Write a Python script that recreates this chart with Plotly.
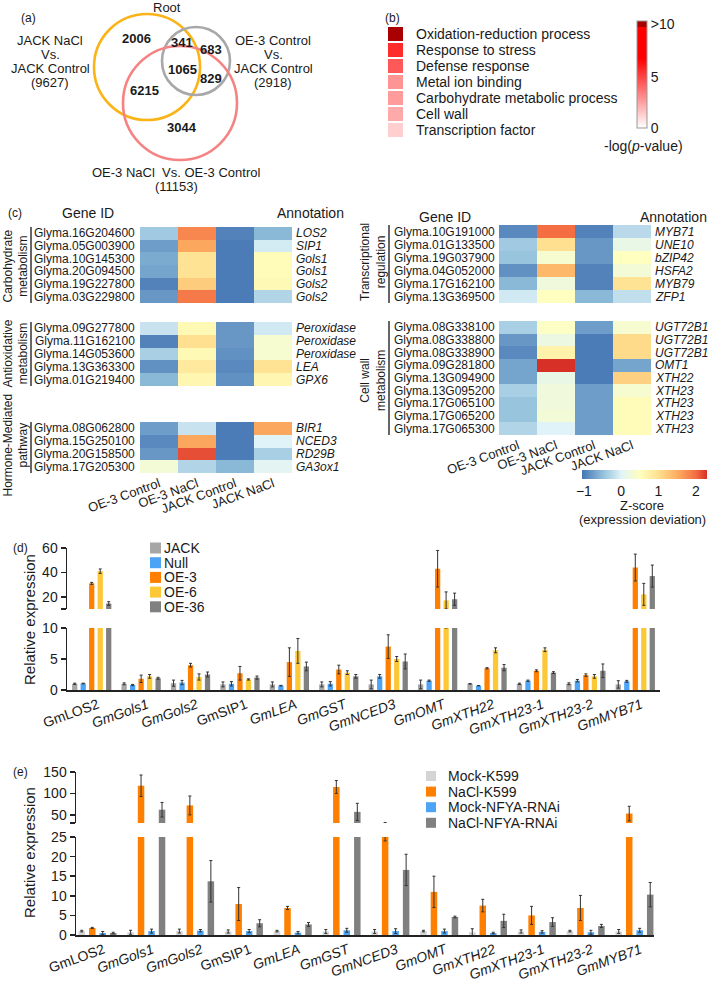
import plotly.graph_objects as go

W, H = 709, 990
FONT = "Arial, 'Liberation Sans', sans-serif"
TXT = "#1a1a1a"


def px(x):
    return x / W


def py(y):
    return 1 - y / H

# ------------------------------------------------------------------ data
# (a) Venn
venn_root = "Root"
venn_left_label = ["JACK NaCl", "Vs.", "JACK Control", "(9627)"]
venn_right_label = ["OE-3 Control", "Vs.", "JACK Control", "(2918)"]
venn_bottom_label = ["OE-3 NaCl  Vs. OE-3 Control", "(11153)"]
venn_counts = [2006, 341, 683, 1065, 829, 6215, 3044]

# (b) GO terms
go_terms = ["Oxidation-reduction process", "Response to stress", "Defense response",
            "Metal ion binding", "Carbohydrate metabolic process", "Cell wall",
            "Transcription factor"]
go_logp = [10.5, 5.7, 4.5, 2.9, 2.7, 2.3, 1.3]

# (c) heatmaps
hm_conditions = ["OE-3 Control", "OE-3 NaCl", "JACK Control", "JACK NaCl"]

carb_ids = ["Glyma.16G204600", "Glyma.05G003900", "Glyma.10G145300",
            "Glyma.20G094500", "Glyma.19G227800", "Glyma.03G229800"]
carb_annot = ["LOS2", "SIP1", "Gols1", "Gols1", "Gols2", "Gols2"]
carb_z = [[-0.40, 1.80, -0.95, -0.55],
          [-0.75, 1.55, -1.00, -0.08],
          [-0.65, 0.95, -1.00, 0.55],
          [-0.70, 0.95, -1.00, 0.55],
          [-0.95, 1.20, -1.00, 0.60],
          [-0.80, 1.90, -1.00, -0.30]]

antiox_ids = ["Glyma.09G277800", "Glyma.11G162100", "Glyma.14G053600",
              "Glyma.13G363300", "Glyma.01G219400"]
antiox_annot = ["Peroxidase", "Peroxidase", "Peroxidase", "LEA", "GPX6"]
antiox_z = [[-0.15, 0.60, -0.80, -0.10],
            [-0.95, 1.00, -0.80, 0.35],
            [-0.35, 0.60, -0.85, 0.35],
            [-0.85, 0.85, -0.90, 0.95],
            [-0.55, 0.65, -0.85, 0.65]]

hormone_ids = ["Glyma.08G062800", "Glyma.15G250100", "Glyma.20G158500",
               "Glyma.17G205300"]
hormone_annot = ["BIR1", "NCED3", "RD29B", "GA3ox1"]
hormone_z = [[-0.75, -0.15, -1.00, 1.55],
             [-0.90, 1.55, -1.00, 0.00],
             [-0.80, 2.15, -1.00, -0.35],
             [0.30, -0.30, -0.55, 0.05]]

trans_ids = ["Glyma.10G191000", "Glyma.01G133500", "Glyma.19G037900",
             "Glyma.04G052000", "Glyma.17G162100", "Glyma.13G369500"]
trans_annot = ["MYB71", "UNE10", "bZIP42", "HSFA2", "MYB79", "ZFP1"]
trans_z = [[-0.90, 2.00, -0.95, -0.25],
           [-0.40, 1.00, -0.80, 0.15],
           [-0.45, 0.35, -0.80, 0.50],
           [-0.85, 1.40, -0.95, 0.30],
           [-0.55, 0.25, -0.95, 0.95],
           [-0.10, 0.50, -0.55, -0.20]]

cell_ids = ["Glyma.08G338100", "Glyma.08G338800", "Glyma.08G338900",
            "Glyma.09G281800", "Glyma.13G094900", "Glyma.13G095200",
            "Glyma.17G065100", "Glyma.17G065200", "Glyma.17G065300"]
cell_annot = ["UGT72B1", "UGT72B1", "UGT72B1", "OMT1", "XTH22", "XTH23",
              "XTH23", "XTH23", "XTH23"]
cell_z = [[-0.35, 0.45, -0.75, 0.35],
          [-0.80, 0.20, -1.00, 1.05],
          [-0.90, 0.70, -1.00, 1.05],
          [-0.70, 2.30, -1.00, -0.70],
          [-0.70, 0.15, -1.00, 1.15],
          [-0.35, 0.25, -0.75, 0.35],
          [-0.45, 0.25, -0.75, 0.55],
          [-0.45, 0.30, -0.75, 0.55],
          [-0.30, 0.00, -0.75, 0.55]]

# (d) qRT-PCR, overexpression lines
genes = ["GmLOS2", "GmGols1", "GmGols2", "GmSIP1", "GmLEA", "GmGST", "GmNCED3",
         "GmOMT", "GmXTH22", "GmXTH23-1", "GmXTH23-2", "GmMYB71"]
gene_italic = [False, True, True, False, True, True, True, True, True, True, True, True]
d_series = ["JACK", "Null", "OE-3", "OE-6", "OE-36"]
d_jack = [1.0, 1.0, 1.1, 0.9, 0.9, 0.9, 0.9, 0.9, 1.0, 1.0, 1.0, 0.9]
d_jack_err = [0.1, 0.15, 0.5, 0.4, 0.4, 0.4, 0.7, 0.7, 0.05, 0.1, 0.15, 0.6]
d_null = [1.05, 0.8, 1.2, 1.0, 0.7, 1.0, 2.2, 1.5, 0.7, 1.5, 1.5, 1.4]
d_null_err = [0.05, 0.1, 0.35, 0.35, 0.05, 0.35, 0.3, 0.1, 0.02, 0.1, 0.2, 0.15]
d_oe3 = [31, 1.8, 4.0, 2.7, 4.5, 3.3, 7.0, 43, 3.5, 3.1, 2.4, 44]
d_oe3_err = [0.8, 0.6, 0.3, 1.1, 2.3, 0.7, 1.9, 15, 0.1, 0.15, 0.2, 11]
d_oe6 = [41, 2.2, 2.1, 1.7, 6.3, 2.8, 5.0, 17, 6.4, 6.5, 2.2, 22]
d_oe6_err = [1.8, 0.3, 0.5, 0.1, 2.0, 0.3, 0.4, 7, 0.4, 0.3, 0.3, 9]
d_oe36 = [14.5, 1.9, 2.5, 2.0, 3.8, 2.2, 4.6, 18, 3.6, 2.8, 3.1, 37]
d_oe36_err = [1.5, 0.15, 0.4, 0.25, 0.7, 0.3, 1.2, 5, 0.5, 0.15, 1.1, 9]

# (e) qRT-PCR, hairy roots
e_series = ["Mock-K599", "NaCl-K599", "Mock-NFYA-RNAi", "NaCl-NFYA-RNAi"]
e_mock_k = [1.0, 0.7, 1.0, 0.9, 1.0, 0.9, 0.9, 1.0, 0.7, 0.9, 1.0, 0.9]
e_mock_k_err = [0.2, 0.5, 0.5, 0.4, 0.2, 0.5, 0.5, 0.2, 0.9, 0.4, 0.2, 0.5]
e_nacl_k = [1.8, 118, 72, 7.9, 6.9, 115, 28, 11.0, 7.5, 5.0, 6.9, 53]
e_nacl_k_err = [0.15, 25, 22, 4.2, 0.4, 15, 4, 4.0, 1.6, 2.3, 3.2, 17]
e_mock_r = [0.5, 1.0, 1.1, 1.0, 0.6, 1.2, 1.0, 1.0, 0.5, 0.8, 0.7, 1.2]
e_mock_r_err = [0.4, 0.5, 0.3, 0.4, 0.3, 0.5, 0.6, 0.5, 0.2, 0.3, 0.5, 0.5]
e_nacl_r = [0.5, 62, 13.7, 3.0, 2.7, 57, 16.6, 4.6, 3.6, 3.3, 2.3, 10.3]
e_nacl_r_err = [0.2, 17, 5.3, 0.9, 0.5, 20, 4.0, 0.2, 1.7, 1.1, 0.4, 3.1]

# ------------------------------------------------------------------ styles
d_colors = ["#a6a6a6", "#4da3f5", "#ff8000", "#fdc835", "#808080"]
e_colors = ["#d4d4d4", "#ff8000", "#4da3f5", "#808080"]

z_min, z_max = -1.05, 2.3
z_stops = [(-1.05, "#4575b4"), (-0.5, "#91bfdb"), (0.0, "#e0f3f8"), (0.5, "#ffffbf"),
           (1.0, "#fee090"), (1.5, "#fdae61"), (2.0, "#f46d43"), (2.3, "#d73027")]
z_scale = [[(v - z_min) / (z_max - z_min), c] for v, c in z_stops]

go_max = 10.6
go_scale = [[0, "#ffffff"], [0.65, "#ff0000"], [0.94, "#ff0000"],
            [0.945, "#a80000"], [1, "#a80000"]]

fig = go.Figure()
annotations = []
shapes = []


def ann(text, x, y, size=13, xanchor="center", yanchor="middle", angle=0,
        yref="paper", color=TXT):
    annotations.append(dict(
        text=text, x=px(x), y=(py(y) if yref == "paper" else y), xref="paper", yref=yref,
        xanchor=xanchor, yanchor=yanchor, textangle=angle, showarrow=False,
        font=dict(size=size, color=color, family=FONT)))


# ------------------------------------------------------------------ (a) Venn
circles = [((94, 14, 200, 120), "#fbb418"),
           ((162, 27, 230, 95), "#a8a8a8"),
           ((123, 46, 237, 160), "#f58383")]
for (x0, y0, x1, y1), col in circles:
    shapes.append(dict(type="circle", xref="paper", yref="paper",
                       x0=px(x0), x1=px(x1), y0=py(y1), y1=py(y0),
                       line=dict(color=col, width=2.6)))
ann("(a)", 28, 18, 12)
ann(venn_root, 167, 7, 13)
for i, t in enumerate(venn_left_label):
    ann(t, 50, 40 + i * 14.3, 13)
for i, t in enumerate(venn_right_label):
    ann(t, 273, 40 + i * 14.3, 13)
for i, t in enumerate(venn_bottom_label):
    ann(t, 176, 172 + i * 14, 13)
venn_pos = [(136, 38), (182, 43), (211, 50), (182, 69), (211, 79), (144, 90), (182, 128)]
for c, (x, y) in zip(venn_counts, venn_pos):
    ann("<b>%d</b>" % c, x, y, 13)

# ------------------------------------------------------------------ (b) GO
fig.add_trace(go.Heatmap(z=[[v] for v in go_logp], x=[0], y=list(range(len(go_terms))),
                         coloraxis="coloraxis2", ygap=2, xaxis="x2", yaxis="y2",
                         hoverinfo="skip"))
ann("(b)", 392, 18, 12)
for i, t in enumerate(go_terms):
    ann(t, 414, i, 14, xanchor="left", yref="y2")
ann("-log(<i>p</i>-value)", 643, 146, 14)

# ------------------------------------------------------------------ (c) heatmaps
blocks = [
    (carb_ids, carb_annot, carb_z, "3", "Carbohydrate<br>metabolism", "L"),
    (antiox_ids, antiox_annot, antiox_z, "4", "Antioxidative<br>metabolism", "L"),
    (hormone_ids, hormone_annot, hormone_z, "5", "Hormone-Mediated<br>pathway", "L"),
    (trans_ids, trans_annot, trans_z, "6", "Transcriptional<br>regulation", "R"),
    (cell_ids, cell_annot, cell_z, "7", "Cell wall<br>metabolism", "R"),
]
block_dom = {"3": (227, 303), "4": (322, 386), "5": (422, 473),
             "6": (225, 303), "7": (321, 435)}
group_label_y = {"3": 266, "4": 354, "5": 445, "6": 262, "7": 380}
side_geom = {"L": dict(x0=140, x1=292, id_x=137, an_x=294, br_x=31, grp_x=15.5),
             "R": dict(x0=499, x1=651, id_x=497, an_x=653, br_x=389, grp_x=373)}

for ids, annot, z, k, grp, side in blocks:
    g = side_geom[side]
    fig.add_trace(go.Heatmap(z=z, x=list(range(len(hm_conditions))),
                             y=list(range(len(ids))), coloraxis="coloraxis",
                             xaxis="x" + k, yaxis="y" + k, hoverinfo="skip"))
    for i, (gid, a) in enumerate(zip(ids, annot)):
        ann(gid, g["id_x"], i, 12, xanchor="right", yref="y" + k)
        ann("<i>%s</i>" % a, g["an_x"], i, 12, xanchor="left", yref="y" + k)
    shapes.append(dict(type="line", xref="paper", yref="y" + k,
                       x0=px(g["br_x"]), x1=px(g["br_x"]), y0=-0.55, y1=len(ids) - 0.45,
                       line=dict(color="#333", width=1.5)))
    ann(grp, g["grp_x"], group_label_y[k], 12, angle=-90)

ann("(c)", 15, 213, 12)
ann("Gene ID", 88, 213, 14)
ann("Annotation", 310, 213, 14)
ann("Gene ID", 445, 217, 14)
ann("Annotation", 673, 217, 14)
ann("Z-score", 642, 506, 13)
ann("(expression deviation)", 642, 519, 13)

# ------------------------------------------------------------------ (d) bars
d_vals = [d_jack, d_null, d_oe3, d_oe6, d_oe36]
d_errs = [d_jack_err, d_null_err, d_oe3_err, d_oe6_err, d_oe36_err]
xcat = list(range(len(genes)))
for ax in (("x8", "y8"), ("x9", "y9")):
    for name, v, e, c in zip(d_series, d_vals, d_errs, d_colors):
        fig.add_trace(go.Bar(x=xcat, y=v, name=name, marker=dict(color=c, line=dict(width=0)),
                             error_y=dict(type="data", array=e, color="#333", thickness=1, width=1.5),
                             xaxis=ax[0], yaxis=ax[1], showlegend=False, hoverinfo="skip"))
ann("(d)", 20, 548, 12)
ann("Relative expression", 29, 620, 15, angle=-90)
for i, (name, c) in enumerate(zip(d_series, d_colors)):
    yc = 548 + i * 14.7
    shapes.append(dict(type="rect", xref="paper", yref="paper", x0=px(150), x1=px(161),
                       y0=py(yc + 5.5), y1=py(yc - 5.5), fillcolor=c, line=dict(width=0)))
    ann(name, 162, yc, 14, xanchor="left")

# ------------------------------------------------------------------ (e) bars
e_vals = [e_mock_k, e_nacl_k, e_mock_r, e_nacl_r]
e_errs = [e_mock_k_err, e_nacl_k_err, e_mock_r_err, e_nacl_r_err]
for ax in (("x10", "y10"), ("x11", "y11")):
    for name, v, e, c in zip(e_series, e_vals, e_errs, e_colors):
        fig.add_trace(go.Bar(x=xcat, y=v, name=name, marker=dict(color=c, line=dict(width=0)),
                             error_y=dict(type="data", array=e, color="#333", thickness=1, width=1.5),
                             xaxis=ax[0], yaxis=ax[1], showlegend=False, hoverinfo="skip"))
ann("(e)", 20, 772, 12)
ann("Relative expression", 29, 853, 15, angle=-90)
for i, (name, c) in enumerate(zip(e_series, e_colors)):
    yc = 776 + i * 15.6
    shapes.append(dict(type="rect", xref="paper", yref="paper", x0=px(426), x1=px(436),
                       y0=py(yc + 5), y1=py(yc - 5), fillcolor=c, line=dict(width=0)))
    ann(name, 446, yc, 14, xanchor="left")

# ------------------------------------------------------------------ layout
def dom_x(a, b):
    return [px(a), px(b)]


def dom_y(top, bottom):
    return [py(bottom), py(top)]


hidden = dict(visible=False, showgrid=False, zeroline=False, fixedrange=True)
layout = dict(
    width=W, height=H, margin=dict(l=0, r=0, t=0, b=0, pad=0, autoexpand=False),
    paper_bgcolor="white", plot_bgcolor="white",
    font=dict(family=FONT, color=TXT, size=13),
    showlegend=False, barmode="group", bargap=0.14, bargroupgap=0.38,
    hovermode=False,
    xaxis=dict(hidden, domain=[0, 0.01]), yaxis=dict(hidden, domain=[0, 0.01]),
    xaxis2=dict(hidden, domain=dom_x(388, 403), range=[-0.5, 0.5], anchor="y2"),
    yaxis2=dict(hidden, domain=dom_y(26, 138), range=[len(go_terms) - 0.5, -0.5], anchor="x2"),
)
for ids, annot, z, k, grp, side in blocks:
    g = side_geom[side]
    t, b = block_dom[k]
    xa = dict(domain=dom_x(g["x0"], g["x1"]), range=[-0.5, 3.5], anchor="y" + k,
              showgrid=False, zeroline=False, showline=False, ticks="",
              showticklabels=k in ("5", "7"), tickvals=list(range(4)), ticktext=hm_conditions,
              tickangle=-20, tickfont=dict(size=13, color=TXT), automargin=False)
    ya = dict(hidden, domain=dom_y(t, b), range=[len(ids) - 0.5, -0.5], anchor="x" + k)
    layout["xaxis" + k] = xa
    layout["yaxis" + k] = ya

gene_ticktext = [("<i>%s</i>" % g if it else g) for g, it in zip(genes, gene_italic)]
axis_line = dict(showline=True, linecolor="#222", linewidth=1.5, ticks="outside",
                 ticklen=5, tickwidth=1.5, tickcolor="#222", showgrid=False, zeroline=False,
                 tickfont=dict(size=14, color=TXT), automargin=False)

layout["xaxis8"] = dict(domain=dom_x(67, 660), range=[-0.5, 11.5], anchor="y8",
                        showline=True, linecolor="#222", linewidth=1.5, ticks="",
                        showgrid=False, zeroline=False, tickvals=xcat, ticktext=gene_ticktext,
                        tickangle=-20, tickfont=dict(size=14, color=TXT), ticklabelshift=6,
                        automargin=False)
layout["yaxis8"] = dict(axis_line, domain=dom_y(628, 690), range=[0, 10], anchor="x8",
                        tickvals=[0, 5, 10])
layout["xaxis9"] = dict(hidden, domain=dom_x(67, 660), range=[-0.5, 11.5], anchor="y9", matches="x8")
layout["yaxis9"] = dict(axis_line, domain=dom_y(548, 609), range=[10, 60], anchor="x9",
                        tickvals=[10, 20, 40, 60], ticktext=["", "20", "40", "60"])

layout["xaxis10"] = dict(domain=dom_x(76, 654), range=[-0.44, 11.4], anchor="y10",
                         showline=True, linecolor="#222", linewidth=1.5, ticks="",
                         showgrid=False, zeroline=False, tickvals=xcat, ticktext=gene_ticktext,
                         tickangle=-20, tickfont=dict(size=14, color=TXT), ticklabelshift=6,
                         automargin=False)
layout["yaxis10"] = dict(axis_line, domain=dom_y(837, 935), range=[0, 25], anchor="x10",
                         tickvals=[0, 5, 10, 15, 20, 25])
layout["xaxis11"] = dict(hidden, domain=dom_x(76, 654), range=[-0.44, 11.4], anchor="y11", matches="x10")
layout["yaxis11"] = dict(axis_line, domain=dom_y(772, 823), range=[31, 150], anchor="x11",
                         tickvals=[31, 50, 100, 150], ticktext=["", "50", "100", "150"])

layout["coloraxis"] = dict(
    cmin=z_min, cmax=z_max, colorscale=z_scale,
    colorbar=dict(orientation="h", x=px(582), xanchor="left", y=py(470), yanchor="top",
                  len=125, lenmode="pixels", thickness=9, thicknessmode="pixels",
                  xpad=0, ypad=0, outlinewidth=0, ticks="", tickvals=[-1, 0, 1, 2],
                  tickfont=dict(size=14, color=TXT)))
layout["coloraxis2"] = dict(
    cmin=0, cmax=go_max, colorscale=go_scale,
    colorbar=dict(x=px(637), xanchor="left", y=py(21), yanchor="top",
                  len=107, lenmode="pixels", thickness=10, thicknessmode="pixels",
                  xpad=0, ypad=0, outlinecolor="#999", outlinewidth=1, ticks="",
                  tickvals=[0, 5, 10.3], ticktext=["0", "5", ">10"],
                  tickfont=dict(size=14, color=TXT)))
layout["annotations"] = annotations
layout["shapes"] = shapes

fig.update_layout(layout)
fig.write_html("out.html",
               config={"displayModeBar": False, "staticPlot": True},
               post_script="document.body.style.margin='0';"
                           "document.body.style.padding='0';"
                           "document.body.style.overflow='hidden';")
